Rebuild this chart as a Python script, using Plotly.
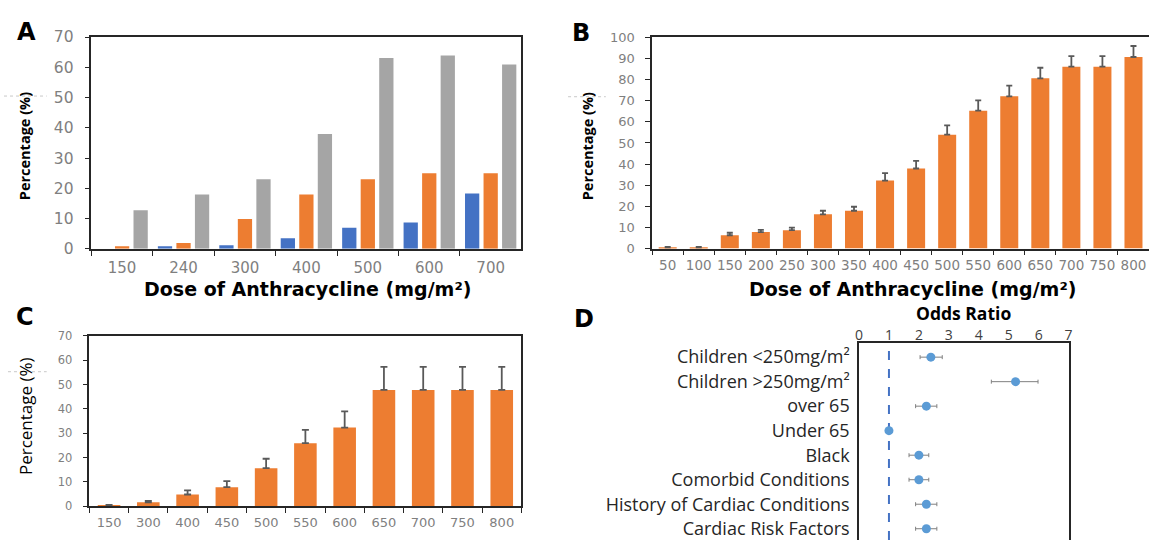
import plotly.graph_objects as go

W, H = 1153, 549

# ---------------- Data ----------------
# Panel A
a_doses = ["150", "240", "300", "400", "500", "600", "700"]
a_blue = [0, 0.9, 1.2, 3.5, 7.0, 8.7, 18.3]
a_orange = [0.9, 1.9, 9.9, 18.0, 23.0, 25.0, 25.0]
a_gray = [12.8, 18.0, 23.0, 38.0, 63.1, 63.9, 60.9]

# Panel B
b_doses = ["50", "100", "150", "200", "250", "300", "350", "400", "450",
           "500", "550", "600", "650", "700", "750", "800"]
b_values = [0.5, 0.5, 6.3, 7.8, 8.7, 16.2, 17.9, 32.2, 37.9,
            53.9, 65.3, 72.1, 80.6, 86.1, 86.1, 90.7]
b_err = [0.3, 0.3, 1.2, 1.1, 1.2, 1.7, 1.9, 3.5, 3.6,
         4.4, 4.9, 5.0, 5.0, 5.0, 5.0, 5.2]

# Panel C
c_doses = ["150", "300", "400", "450", "500", "550", "600", "650", "700", "750", "800"]
c_values = [0.3, 1.6, 4.8, 7.8, 15.6, 25.9, 32.3, 47.8, 47.8, 47.8, 47.8]
c_err = [0.2, 0.6, 1.7, 2.5, 3.9, 5.5, 6.7, 9.5, 9.5, 9.5, 9.5]

# Panel D
d_labels = ["Children <250mg/m²", "Children >250mg/m²", "over 65", "Under 65",
            "Black", "Comorbid Conditions", "History of Cardiac Conditions",
            "Cardiac Risk Factors"]
d_or = [2.40, 5.23, 2.25, 1.00, 2.00, 2.00, 2.25, 2.25]
d_lo = [2.04, 4.42, 1.89, 1.00, 1.67, 1.67, 1.89, 1.89]
d_hi = [2.78, 5.98, 2.60, 1.00, 2.33, 2.33, 2.60, 2.60]

# ---------------- Styles ----------------
BLUE = "#4472C4"
ORANGE = "#ED7D31"
GRAY = "#A5A5A5"
ERR = "#595959"
LINE = "#262626"
TICKGRAY = "#7F7F7F"
DOT_BLUE = "#5B9BD5"


def px_x(p):
    return p / W


def px_y(p):
    return 1 - p / H


fig = go.Figure()

# Panel A bars
for vals, col in [(a_blue, BLUE), (a_orange, ORANGE), (a_gray, GRAY)]:
    fig.add_trace(go.Bar(x=a_doses, y=vals, marker=dict(color=col, line=dict(width=0)),
                         xaxis="x", yaxis="y", showlegend=False))

# Panel B
fig.add_trace(go.Bar(x=b_doses, y=b_values, width=0.58,
                     marker=dict(color=ORANGE, line=dict(width=0)),
                     error_y=dict(type="data", array=b_err, arrayminus=[0] * len(b_err),
                                  symmetric=False, color=ERR, thickness=1.8, width=3),
                     xaxis="x2", yaxis="y2", showlegend=False))

# Panel C
fig.add_trace(go.Bar(x=c_doses, y=c_values, width=0.575,
                     marker=dict(color=ORANGE, line=dict(width=0)),
                     error_y=dict(type="data", array=c_err, arrayminus=[0] * len(c_err),
                                  symmetric=False, color=ERR, thickness=1.8, width=3.5),
                     xaxis="x3", yaxis="y3", showlegend=False))

# Panel D
fig.add_trace(go.Scatter(x=d_or, y=d_labels, mode="markers",
                         marker=dict(color=DOT_BLUE, size=9),
                         error_x=dict(type="data", symmetric=False,
                                      array=[h - o for h, o in zip(d_hi, d_or)],
                                      arrayminus=[o - l for o, l in zip(d_or, d_lo)],
                                      color="#808080", thickness=1, width=2),
                         xaxis="x4", yaxis="y4", showlegend=False))

common_x = dict(type="category", showline=True, linecolor=LINE, linewidth=1.5,
                ticks="outside", tickson="boundaries", ticklen=5, tickcolor=LINE,
                tickwidth=1.2, showgrid=False, zeroline=False, tickangle=0)
common_y = dict(showline=True, linecolor=LINE, linewidth=1.5, ticks="outside",
                ticklen=5, tickcolor=LINE, tickwidth=1.2, showgrid=False, zeroline=False,
                dtick=10)

fig.update_layout(
    width=W, height=H, margin=dict(l=0, r=0, t=0, b=0),
    paper_bgcolor="white", plot_bgcolor="white",
    barmode="group", bargap=0.095, bargroupgap=0.23,
    showlegend=False,
    xaxis=dict(**common_x, domain=[px_x(88), px_x(521)], anchor="y", mirror=True,
               tickfont=dict(family="DejaVu Sans", size=15, color=TICKGRAY),
               ticklabelstandoff=4),
    yaxis=dict(**common_y, domain=[px_y(248), px_y(29)], anchor="x", mirror=True,
               range=[0, 70],
               tickfont=dict(family="DejaVu Sans", size=15.5, color=TICKGRAY),
               ticklabelstandoff=8),
    xaxis2=dict(**common_x, domain=[px_x(652.7), 1.0], anchor="y2", mirror=True,
                tickfont=dict(family="DejaVu Sans", size=13.5, color=TICKGRAY),
                ticklabelstandoff=3),
    yaxis2=dict(**common_y, domain=[px_y(247.7), px_y(29.3)], anchor="x2", mirror=False,
                range=[0, 100],
                tickfont=dict(family="DejaVu Sans", size=13, color=TICKGRAY),
                ticklabelstandoff=8),
    xaxis3=dict(**common_x, domain=[px_x(86), px_x(521)], anchor="y3", mirror=True,
                tickfont=dict(family="DejaVu Sans", size=13, color=TICKGRAY),
                ticklabelstandoff=4),
    yaxis3=dict(**common_y, domain=[px_y(514), px_y(338)], anchor="x3", mirror=True,
                range=[0, 70],
                tickfont=dict(family="DejaVu Sans", size=11.5, color=TICKGRAY),
                ticklabelstandoff=8),
    xaxis4=dict(domain=[px_x(861), px_x(1072)], anchor="y4", side="top",
                range=[0, 7], dtick=1, showline=True, linecolor=LINE, linewidth=1.5,
                mirror=False, ticks="", ticklen=0, showgrid=False, zeroline=False,
                tickfont=dict(family="Open Sans", size=14, color="#404040"),
                ticklabelstandoff=-5),
    yaxis4=dict(domain=[0, px_y(345)], anchor="x4", type="category",
                categoryorder="array", categoryarray=d_labels,
                range=[7.46, -0.59], showline=True, linecolor=LINE, linewidth=1.5,
                mirror=True, ticks="", showgrid=False, zeroline=False,
                tickfont=dict(family="Open Sans", size=18, color="#262626"),
                ticklabelstandoff=4),
)

# Reference line at OR = 1
fig.add_shape(type="line", xref="x4", yref="y4 domain", x0=1, x1=1, y0=0, y1=1,
              line=dict(color=BLUE, width=2, dash="dash"), layer="below")

# small dotted marks left of y titles
for (x0, x1, y) in [(0, 43, 90), (568, 606, 90.7), (4, 43, 375)]:
    fig.add_shape(type="line", xref="paper", yref="paper",
                  x0=px_x(x0), x1=px_x(x1), y0=px_y(y), y1=px_y(y),
                  line=dict(color="#C8C8C8", width=1, dash="dot"))

ann = []
# Panel letters
for lab, x, y in [("A", 23, 24), ("B", 581, 24.5), ("C", 21, 318.5), ("D", 584, 320)]:
    ann.append(dict(text=lab, x=px_x(x), y=px_y(y), xref="paper", yref="paper",
                    showarrow=False, xanchor="center", yanchor="middle",
                    font=dict(family="DejaVu Sans", size=24, color="black", weight="bold")))
# X titles
for x in [306, 915]:
    ann.append(dict(text="Dose of Anthracycline (mg/m²)", x=px_x(x), y=px_y(289),
                    xref="paper", yref="paper", showarrow=False,
                    xanchor="center", yanchor="middle",
                    font=dict(family="DejaVu Sans", size=19, color="black", weight="bold")))
# Y titles
for x, y, w, s in [(20, 142, "bold", 14.5), (587, 142, "bold", 14.5), (21, 421, "normal", 17)]:
    ann.append(dict(text="Percentage (%)", x=px_x(x), y=px_y(y), xref="paper", yref="paper",
                    showarrow=False, textangle=-90, xanchor="center", yanchor="middle",
                    font=dict(family="Open Sans", size=s, color="black", weight=w)))
# Odds ratio title
ann.append(dict(text="Odds Ratio", x=px_x(966), y=px_y(314), xref="paper", yref="paper",
                showarrow=False, xanchor="center", yanchor="middle",
                font=dict(family="Open Sans", size=17.5, color="black", weight="bold")))

fig.update_layout(annotations=ann)

fig.write_html("out.html", config={"displayModeBar": False},
               post_script="document.body.style.margin='0';document.body.style.overflow='hidden';")
